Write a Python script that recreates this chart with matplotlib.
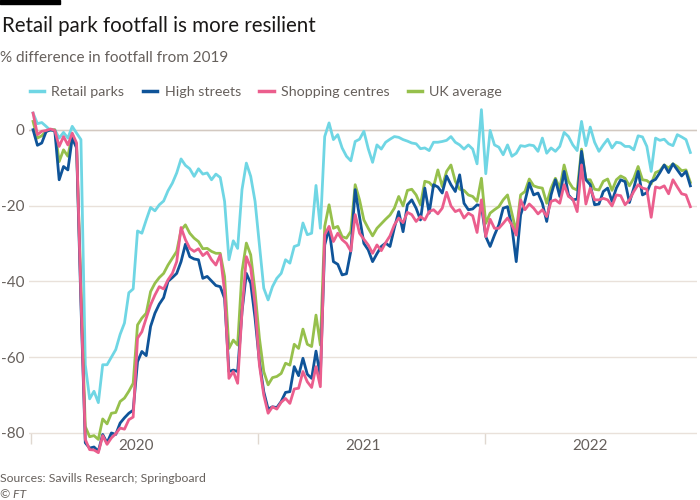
import numpy as np
import pandas as pd
import matplotlib
matplotlib.use('Agg')
import matplotlib.pyplot as plt
import matplotlib.dates as mdates
from matplotlib.lines import Line2D

plt.rcParams['font.family'] = ['Lato', 'DejaVu Sans']
plt.rcParams['axes.unicode_minus'] = False

#### weekly data, % difference in footfall from 2019
weeks = pd.date_range('2020-01-05', periods=152, freq='W-SUN')

retail_parks = [4.4, 1.6, 1.9, 0.9, -0.2, 0.0, -2.2, -0.7, -2.2, 0.9, -0.9, -2.6,
                -62, -71, -69, -72, -62, -62, -60, -58, -54, -51, -43, -42,
                -26.7, -27.3, -23.8, -20.5, -21.4, -19.8, -18.8, -16.1, -14.1, -11.4, -7.7, -9.4,
                -10.3, -12.3, -10.3, -11.7, -11.4, -13.2, -11.7, -12.6, -18.9, -34.3, -29.3, -31.3,
                -15.8, -8.8, -12.3, -18.9, -30.4, -41.8, -44.9, -41.4, -39.2, -37.9, -34.3, -35.2,
                -30.8, -30.4, -24.6, -27.7, -27.3, -14.7, -26, -1.8,
                1.8, -2.6, -1.3, -4.8, -7, -8.2, -3.1, -2.5, -0.4, -5, -8.6, -4, -5.1, -3.3, -2.5,
                -1.8, -2, -2.6, -3, -3.5, -3.7, -5, -4.8, -5.5, -3.3, -3.3,
                -3.1, -2.8, -1.8, -3.3, -4, -5.1, -4, -5.1, -9, 5.3, -11.6, -0.2, -4, -4.6, -6.6,
                -4, -7, -6.2, -4.2, -4.4, -4, -4.2, -5.7, -2.2, -6.2, -4.8, -5.7, -4.4, -0.7, -1.8,
                -4, -5.5, 2.2, -4.2, 0.7, -3.3, -5.7, -4, -2.5, -4.8, -3.3, -3.5, -4.4, -4.4, -5.3,
                -1.6, -1.9, -4.4, -11, -2.2, -2.8, -2.5, -3.7, -4.2, -1.3, -1.9, -2.6, -6]

high_streets = [0, -4.1, -3.5, -0.5, 0, -0.3, -13.2, -9.7, -10.6, -2.2, -4.8, -46,
                -82.6, -84, -83.7, -84.8, -80.4, -82.6, -80, -80.4, -77.4, -76, -74.8, -74,
                -61.2, -58.5, -59.6, -51.9, -48.4, -46, -44.3, -40, -39, -37.9, -34.8, -30.2,
                -33.5, -34.1, -34.3, -39.2, -38.7, -39.9, -41.1, -41.4, -44.5, -63.8, -63.4, -63.8,
                -48, -37.9, -40.5, -49.7, -61.2, -69.1, -73.7, -73.1, -73.3, -71.7, -69.3, -69.1,
                -62.5, -64.9, -60.3, -64.5, -65.6, -58.4, -65.1, -30.4,
                -26, -34.8, -35.5, -38.3, -38, -32, -15.8, -23, -30, -31.7, -34.8, -32.7, -30.8,
                -29.9, -30.8, -25.9, -21.6, -26.9, -19.8, -18.5, -20.7, -23.8, -15.4, -22, -14.5, -15.1,
                -16.7, -12.2, -14.5, -16.3, -11.9, -19.4, -21.1, -20.9, -19.8, -20.1, -28.2, -30.8,
                -27.8, -25.1, -20.7, -20.3, -25.6, -34.8, -22.5, -18.9, -14.1, -17.2, -16.7, -19.4,
                -24.2, -17.2, -13.2, -17.6, -11, -17.2, -18.5, -18.3, -5.7, -13.2, -14.5, -19.8,
                -19.6, -16.3, -15.4, -18.9, -15.4, -13.2, -13.7, -19.2, -15.4, -11, -17.2, -16.6,
                -13.7, -13.1, -11.3, -9.3, -11.3, -9, -10.6, -12.2, -11, -14.8]

shopping_centres = [4.4, -1.3, -0.4, -0.2, 0.2, -0.2, -4.4, -1.8, -4, -0.9, -3.5, -44,
                    -81.7, -84.4, -84.5, -85.2, -80.7, -83, -81.3, -80.2, -78.7, -79, -76.5, -75.8,
                    -55, -53.3, -49.7, -46.2, -43.6, -41.4, -42, -39.6, -37.9, -34.8, -25.8, -29,
                    -31.3, -32.1, -31.4, -33.2, -32.3, -34.3, -35.7, -33, -42.7, -65.6, -63.8, -66.9,
                    -48, -33.5, -36.4, -46.2, -62.1, -70, -74.8, -73.1, -73.7, -71.9, -70.9, -72.2,
                    -68.4, -68.2, -63.8, -66.5, -68, -62.5, -67.8, -27.7,
                    -25.5, -29.5, -27.3, -29, -30, -32, -22.4, -27.3, -28.9, -30.4, -32.6, -30.4,
                    -31.9, -29.8, -28, -25.1, -23.3, -24.5, -21.8, -22.4, -24.2, -22.9, -23.8, -21.6,
                    -21.1, -22.2,
                    -20.7, -16.5, -20.1, -21.6, -21.1, -23.3, -22, -22.7, -27.1, -18.5, -28.2, -23.6,
                    -26, -26, -24.7, -23.3, -25.1, -27.8, -18.5, -21.1, -19.6, -20.7, -22.2, -21.1,
                    -22.9, -18.9, -18.5, -19.4, -14.5, -17.6, -18.3, -21.6, -9.3, -19.6, -15.4, -18.5,
                    -18.5, -18.1, -18.5, -20.1, -17.2, -17.4, -19.8, -18.5, -16.3, -14.5, -15.4, -15.7,
                    -23.1, -15.1, -15.4, -14.8, -16.9, -13.2, -15.1, -16.9, -17.2, -20.3]

uk_average = [2.2, -2.2, -1.6, -0.4, 0, 0, -8.4, -5.3, -7, -1.3, -4.4, -42,
              -78.3, -81, -80.7, -81.7, -76.3, -77.6, -74.8, -74.6, -71.7, -70.8, -69, -66.9,
              -51.5, -49.7, -48.4, -42.7, -40.5, -39, -37.9, -35.7, -33.9, -32.1, -26.5, -25.1,
              -27.3, -28.6, -29.5, -31.4, -31.3, -32.1, -32.6, -32.6, -38.7, -57.7, -55.5, -56.8,
              -37.4, -29.9, -33, -42.7, -55, -63.8, -67.3, -65.4, -65.1, -64.3, -61.6, -62.1,
              -56.6, -57.7, -52.6, -56.6, -57.2, -48.9, -56.8, -25.5,
              -19.8, -26, -25.5, -28.2, -28.6, -26.8, -14.5, -18.5, -23.8, -26, -28, -26, -24.8,
              -23.6, -22.5, -20.7, -17.6, -20.1, -16, -15.7, -17.2, -19.8, -13.6, -13.9, -15.1, -10.6,
              -15, -11, -9.3, -13.6, -15.7, -16, -17.2, -17.6, -18.9, -12.8, -24.7, -22, -21.1,
              -20.3, -18.5, -17.2, -22, -26.9, -17.2, -16.3, -13, -14.8, -15.2, -15.4, -19.4,
              -15.4, -12.8, -15.4, -9.3, -13.6, -15.4, -15.9, -5.1, -13.2, -13.2, -15.7, -15.9,
              -13.6, -13, -16, -13.2, -12.2, -12.8, -14.8, -12.8, -9.7, -13.2, -13.4, -14.3,
              -11.3, -10.8, -9.3, -10.1, -9, -9.7, -10.8, -10.6, -13.9]

series_names = ['Retail parks', 'High streets', 'Shopping centres', 'UK average']
colors = {'Retail parks': '#6fd6e4', 'High streets': '#0f5499',
          'Shopping centres': '#eb5e8d', 'UK average': '#96c04c'}
yticks = [0, -20, -40, -60, -80]
years = [2020, 2021, 2022]

grey = '#66605c'
fig = plt.figure(figsize=(7, 5), dpi=100, facecolor='white')
ax = fig.add_axes([0.041, 0.0886, 0.955, 0.6974])

ax.set_ylim(-86, 6)
ax.set_xlim(pd.Timestamp('2019-12-29'), pd.Timestamp('2022-12-08'))
ax.set_yticks(yticks)
ax.set_yticklabels([str(v) for v in yticks])
ax.grid(axis='y', color='#e9e1da', linewidth=1)
ax.axhline(0, color='#d3c9c1', linewidth=1, zorder=1)
ax.set_axisbelow(True)

for s in ax.spines.values():
    s.set_visible(False)
ax.spines['bottom'].set_position(('data', -80))

# year ticks at boundaries, labels in the middle
ax.set_xticks([pd.Timestamp(f'{y}-01-01') for y in years])
ax.set_xticklabels([])
ax.set_xticks([pd.Timestamp(f'{y}-06-19') for y in years], minor=True)
ax.set_xticklabels([str(y) for y in years], minor=True)
ax.tick_params(axis='x', which='major', length=8, color='#e0d8d0', width=1)
ax.tick_params(axis='x', which='minor', length=0, pad=4, labelsize=11, labelcolor=grey)
ax.tick_params(axis='y', length=0, pad=3, labelsize=11, labelcolor=grey)

data = {'Retail parks': retail_parks, 'High streets': high_streets,
        'Shopping centres': shopping_centres, 'UK average': uk_average}
for name in ['Retail parks', 'UK average', 'High streets', 'Shopping centres']:
    ax.plot(weeks, data[name], color=colors[name], linewidth=2, solid_joinstyle='round', zorder=3)

handles = [Line2D([0], [0], color=colors[n], linewidth=2.5) for n in series_names]
fig.legend(handles, series_names, loc='center left', bbox_to_anchor=(30 / 700, 1 - 92 / 500),
           ncol=4, frameon=False, fontsize=10.3, labelcolor=grey, handlelength=1.0,
           handletextpad=0.5, columnspacing=1.3, borderpad=0, borderaxespad=0)

# title, subtitle, source
fig.patches.append(plt.Rectangle((0, 1 - 4 / 500), 60 / 700, 4 / 500, transform=fig.transFigure,
                                 color='black'))
fig.text(0.003, 1 - 32 / 500, 'Retail park footfall is more resilient', fontsize=14.8,
         color='#1a1817', va='baseline')
fig.text(0.0, 1 - 62 / 500, '% difference in footfall from 2019', fontsize=11,
         color=grey, va='baseline')
fig.text(0.0, 1 - 482 / 500, 'Sources: Savills Research; Springboard', fontsize=8.8,
         color=grey, va='baseline')
fig.text(0.0, 1 - 498 / 500, '© FT', fontsize=8.8, color=grey, va='baseline', style='italic')

fig.savefig('out.png', dpi=100, facecolor='white')
